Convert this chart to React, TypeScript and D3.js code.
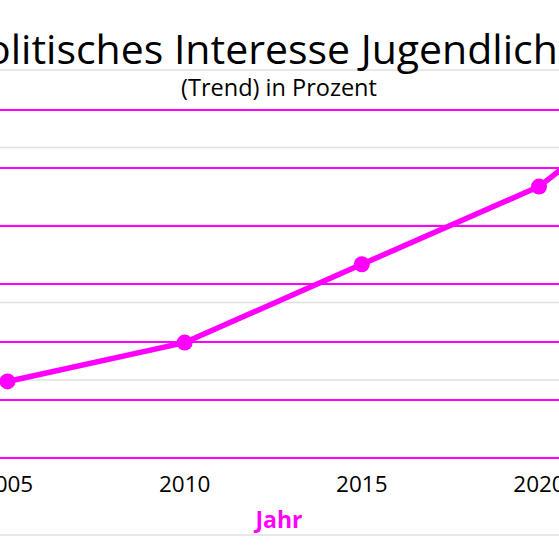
import React from "react";
import * as d3 from "d3";

const years = [2005, 2010, 2015, 2020, 2025];
const values = [13.2, 19.9, 33.4, 46.8, 70.5];
const xTickLabels = ["2005", "2010", "2015", "2020"];
const yTicks = [0, 10, 20, 30, 40, 50, 60];
const bgGridTicks = [0, 1, 2, 3, 4, 5, 6];

const title = "Politisches Interesse Jugendlicher";
const subtitle = "(Trend) in Prozent";
const xAxisTitle = "Jahr";

const W = 559;
const H = 559;
const MAGENTA = "#ff00ff";
const FONT = "'Open Sans', 'Noto Sans', sans-serif";

export default function App() {
  const x = d3.scaleLinear().domain([2005, 2020]).range([7.5, 539]);
  const y = d3.scaleLinear().domain([0, 60]).range([458, 110]);
  const yBg = d3.scaleLinear().domain([0, 6]).range([535, 70]);

  const line = d3
    .line<number>()
    .x((_, i) => x(years[i]))
    .y((d) => y(d));

  return (
    <svg
      width={W}
      height={H}
      style={{ position: "fixed", left: 0, top: 0, background: "#fff" }}
    >
      <rect x={0} y={0} width={W} height={H} fill="#fff" />
      {bgGridTicks.map((t) => (
        <line
          key={"bg" + t}
          x1={0}
          x2={W}
          y1={yBg(t)}
          y2={yBg(t)}
          stroke="#e0e0e0"
          strokeWidth={1.5}
        />
      ))}
      {yTicks.map((t) => (
        <line
          key={"g" + t}
          x1={0}
          x2={W}
          y1={y(t)}
          y2={y(t)}
          stroke={MAGENTA}
          strokeWidth={2}
        />
      ))}
      <text
        x={279.5}
        y={64}
        textAnchor="middle"
        fontFamily={FONT}
        fontSize={41}
        fill="#000"
      >
        {title}
      </text>
      <text
        x={279}
        y={96}
        textAnchor="middle"
        fontFamily={FONT}
        fontSize={23.5}
        fill="#000"
      >
        {subtitle}
      </text>
      <path
        d={line(values) || ""}
        fill="none"
        stroke={MAGENTA}
        strokeWidth={5.5}
        strokeLinejoin="round"
      />
      {values.map((v, i) => (
        <circle key={"p" + i} cx={x(years[i])} cy={y(v)} r={8} fill={MAGENTA} />
      ))}
      {xTickLabels.map((l) => (
        <text
          key={"xt" + l}
          x={x(+l)}
          y={492}
          textAnchor="middle"
          fontFamily={FONT}
          fontSize={22.5}
          fill="#000"
        >
          {l}
        </text>
      ))}
      <text
        x={279}
        y={528}
        textAnchor="middle"
        fontFamily={FONT}
        fontSize={23}
        fontWeight="bold"
        fill={MAGENTA}
      >
        {xAxisTitle}
      </text>
    </svg>
  );
}
